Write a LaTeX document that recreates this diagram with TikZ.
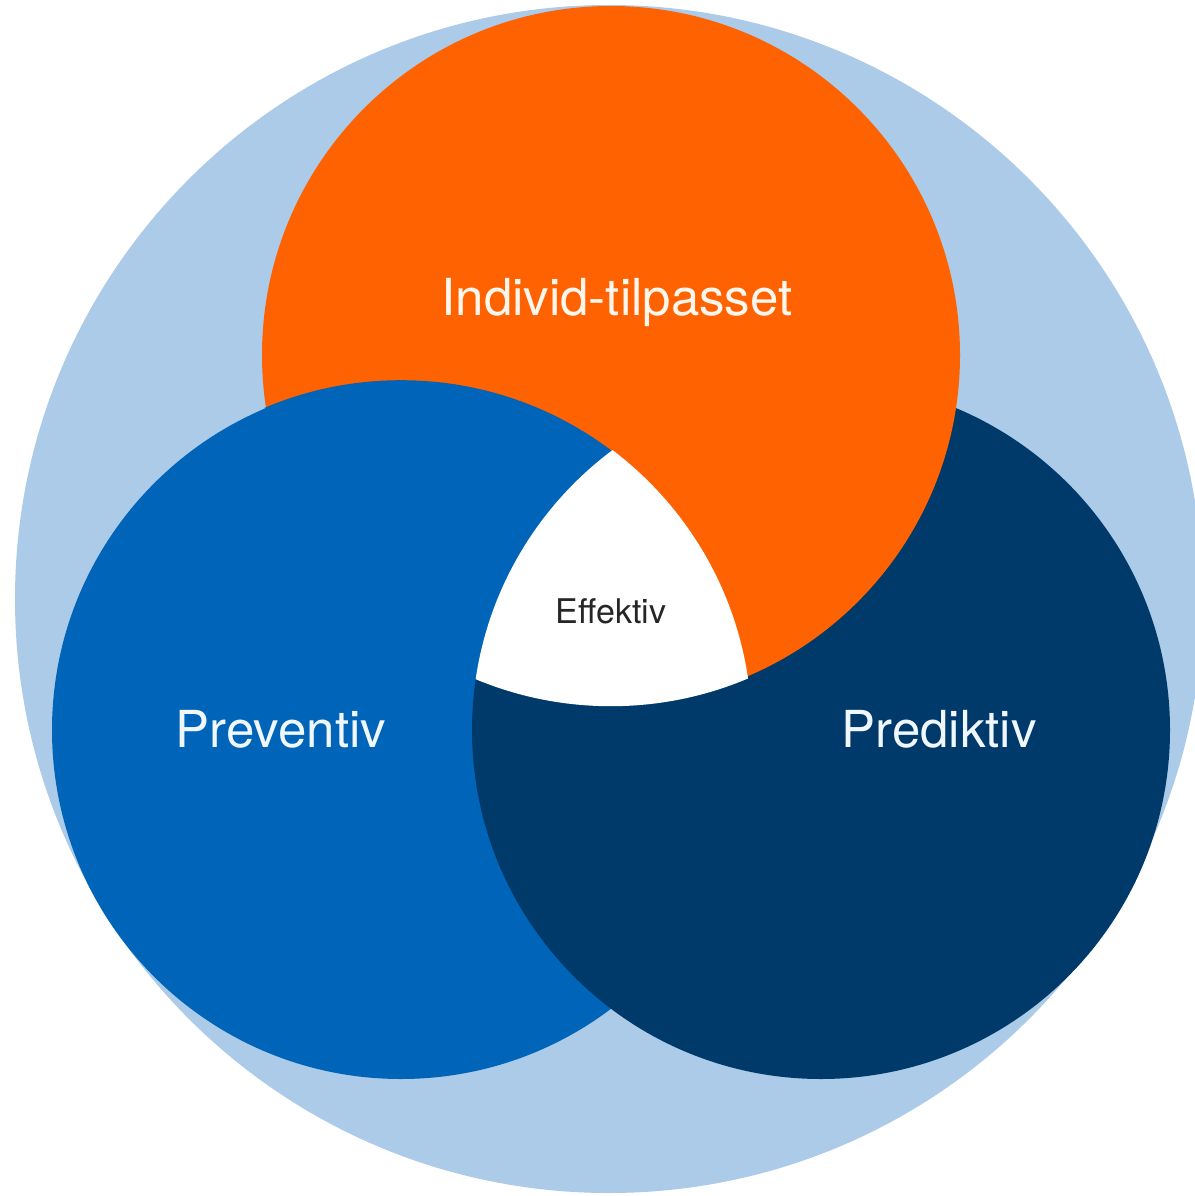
\documentclass[tikz,border=0pt]{standalone}
\usepackage{fontspec}
\setmainfont{TeX Gyre Heros}
\definecolor{cbg}{RGB}{171,203,232}
\definecolor{corange}{RGB}{255,98,0}
\definecolor{cblue}{RGB}{0,100,184}
\definecolor{cnavy}{RGB}{0,58,107}
\definecolor{txtlight}{RGB}{255,247,238}
\definecolor{txtblue}{RGB}{240,247,255}
\tikzset{
  biglabel/.style={anchor=base, font=\fontsize{51}{60}\selectfont, inner sep=0pt},
  smalllabel/.style={anchor=base, font=\fontsize{34}{40}\selectfont, inner sep=0pt, text=black!85}
}
\begin{document}
\begin{tikzpicture}[x=1pt,y=-1pt]
\useasboundingbox (0,0) rectangle (1194,1196);
\fill[white] (0,0) rectangle (1194,1196);
% circle centres
\coordinate (cbgc) at (609,599);
\coordinate (co) at (611,355);
\coordinate (cb) at (401,730);
\coordinate (cn) at (821,730);
\def\rr{349pt}
\fill[cbg] (cbgc) circle (594pt);
\fill[cblue] (cb) circle (\rr);
\fill[cnavy] (cn) circle (\rr);
\fill[corange] (co) circle (\rr);
% blue lies over orange
\begin{scope}
  \clip (cb) circle (349.8pt);
  \fill[cblue] (co) circle (350.2pt);
\end{scope}
% white centre
\begin{scope}
  \clip (cb) circle (350.8pt);
  \clip (cn) circle (\rr);
  \fill[white] (co) circle (351.2pt);
\end{scope}
\node[biglabel, text=txtlight] (lind) at (617,315) {Individ-tilpasset};
\node[biglabel, text=txtblue] (lprev) at (281,747) {Preventiv};
\node[biglabel, text=txtblue] (lpred) at (939,747) {Prediktiv};
\node[smalllabel] (leff) at (611,623) {Effektiv};
\end{tikzpicture}
\end{document}
